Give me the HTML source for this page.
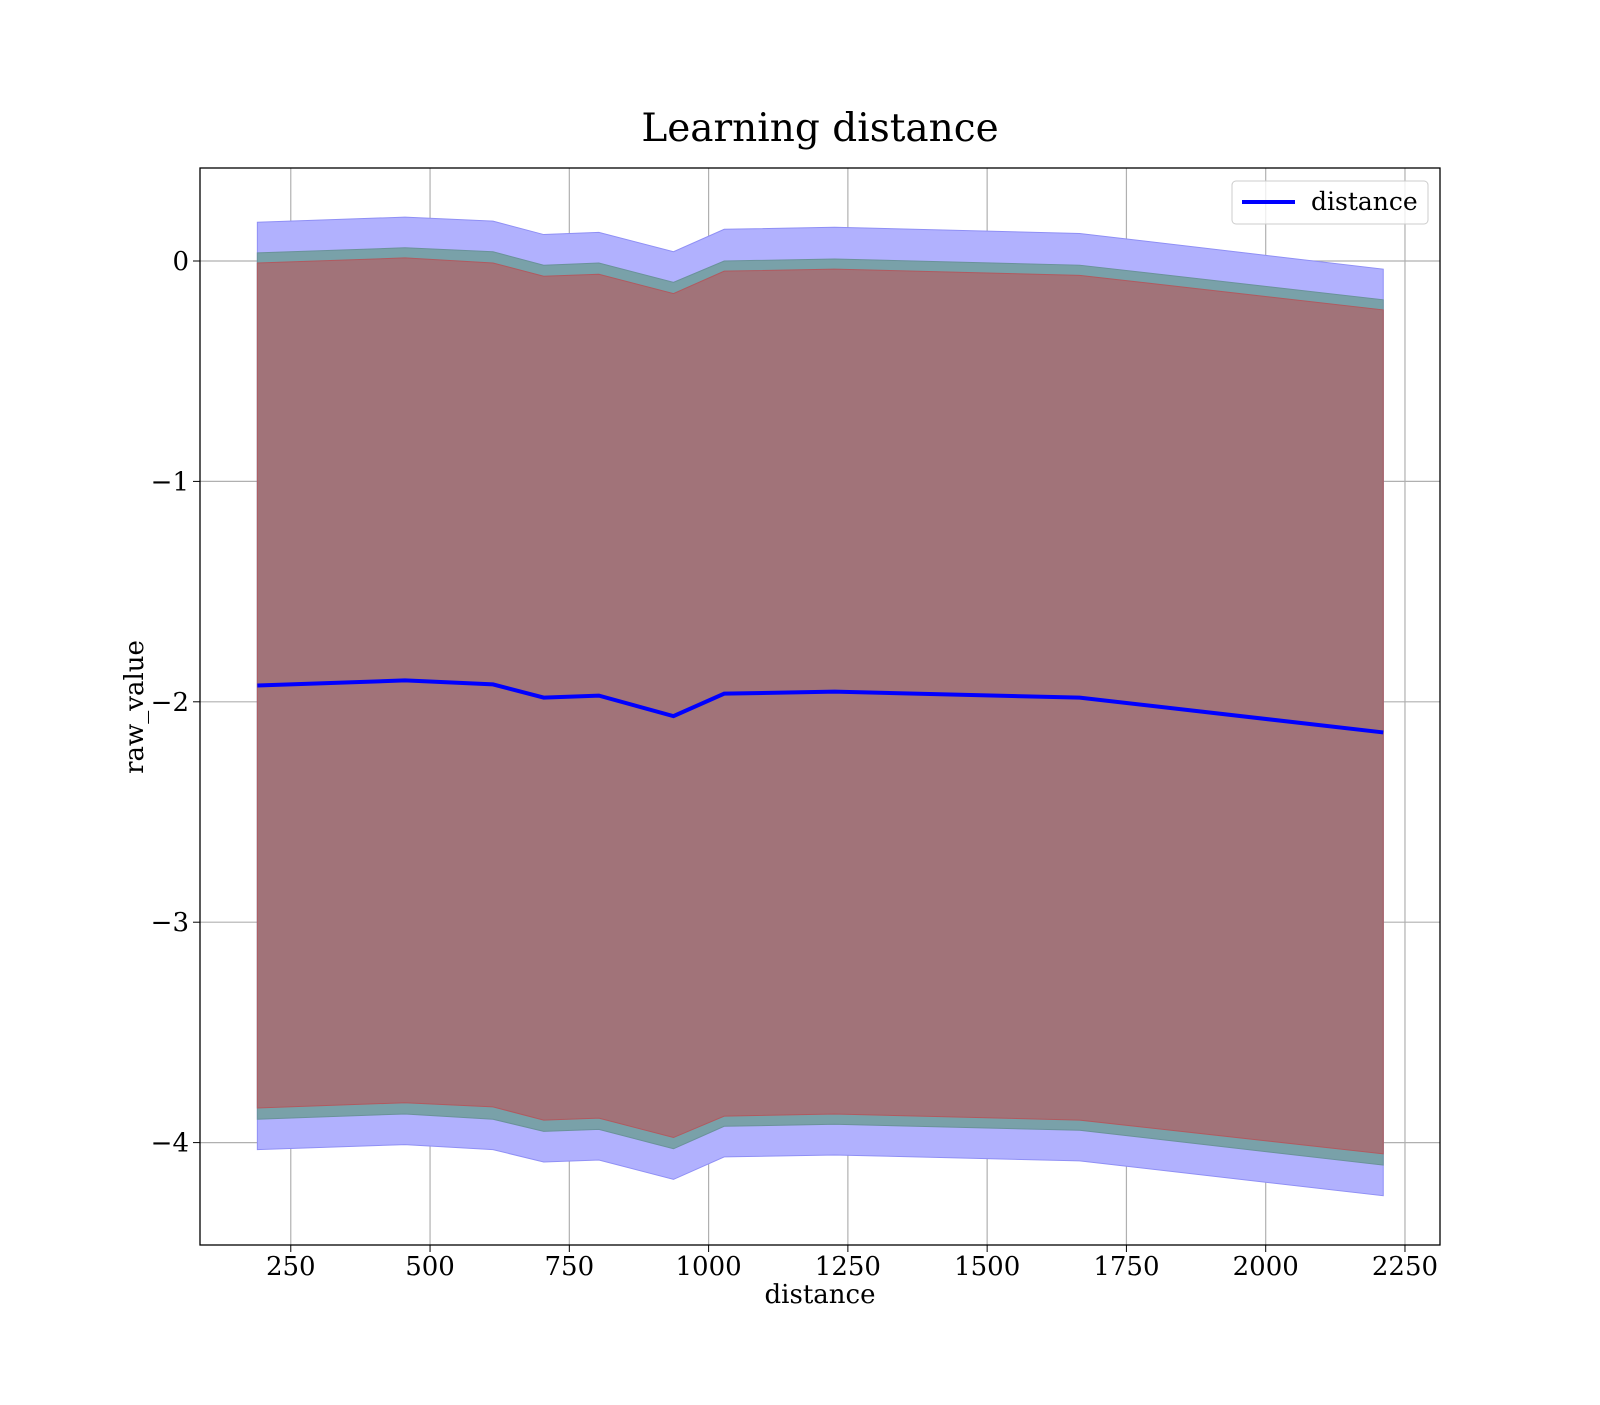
<!DOCTYPE html>
<html><head><meta charset="utf-8"><style>
body{margin:0;background:#fff}
svg text{font-family:"DejaVu Serif","Liberation Serif",serif;fill:#000}
</style></head><body>
<svg width="1600" height="1400" xmlns="http://www.w3.org/2000/svg">
<rect width="1600" height="1400" fill="#fff"/>
<text x="820" y="141" font-size="39" text-anchor="middle">Learning distance</text>
<g id="grid"></g>
<g id="bands"></g>
<g id="line"></g>
<rect x="200" y="168" width="1240" height="1077" fill="none" stroke="#000" stroke-width="1.3"/>
<g id="xt"></g><g id="yt"></g>
<text x="820" y="1303" font-size="26" text-anchor="middle">distance</text>
<text x="143" y="707" font-size="26" text-anchor="middle" transform="rotate(-90 143 707)">raw_value</text>
<g>
<rect x="1232" y="181" width="196" height="43" rx="4" fill="#fff" stroke="#ccc" fill-opacity="0.8"/>
<line x1="1242" y1="202" x2="1295" y2="202" stroke="#0000ff" stroke-width="4"/>
<text x="1311" y="210" font-size="25">distance</text>
</g>
</svg>
<script>
const xs=[190,455,613,704,803,937,1028,1226,1666,2211];
const mean=[-1.926,-1.903,-1.921,-1.981,-1.972,-2.065,-1.963,-1.954,-1.981,-2.139];
const blueUp=[0.176,0.199,0.181,0.120,0.130,0.042,0.144,0.153,0.125,-0.037];
const blueLo=[-4.032,-4.009,-4.032,-4.088,-4.079,-4.167,-4.065,-4.056,-4.083,-4.241];
const greenUp=[0.037,0.060,0.042,-0.019,-0.009,-0.097,0.000,0.009,-0.019,-0.176];
const greenLo=[-3.894,-3.870,-3.894,-3.949,-3.940,-4.028,-3.926,-3.917,-3.944,-4.102];
const redUp=[-0.009,0.014,-0.009,-0.069,-0.060,-0.148,-0.046,-0.037,-0.065,-0.222];
const redLo=[-3.843,-3.819,-3.838,-3.898,-3.889,-3.977,-3.880,-3.870,-3.898,-4.051];
const xTicks=[250,500,750,1000,1250,1500,1750,2000,2250];
const yTicks=[0,-1,-2,-3,-4];
const X=v=>151.5+v*0.5571, Y=v=>261-v*220.4;
const NS="http://www.w3.org/2000/svg";
function mk(t,a,p){const e=document.createElementNS(NS,t);for(const k in a)e.setAttribute(k,a[k]);p.appendChild(e);return e;}
const grid=document.getElementById('grid'),xt=document.getElementById('xt'),yt=document.getElementById('yt');
xTicks.forEach(v=>{
 const g=mk('line',{x1:X(v),x2:X(v),y1:168,y2:1245,stroke:'#b0b0b0','stroke-width':1.2},grid);
 
 
 const tk=mk('line',{x1:X(v),x2:X(v),y1:1245,y2:1252,stroke:'#000'},xt);
 
 
 const t=mk('text',{x:X(v),y:1275,'font-size':26,'text-anchor':'middle'},xt);t.textContent=v;
 
 
});
yTicks.forEach(v=>{
 const g=mk('line',{x1:200,x2:1440,y1:Y(v),y2:Y(v),stroke:'#b0b0b0','stroke-width':1.2},grid);
 
 
 const tk=mk('line',{x1:193,x2:200,y1:Y(v),y2:Y(v),stroke:'#000'},yt);
 
 
 const t=mk('text',{x:189,y:Y(v)+9,'font-size':26,'text-anchor':'end'},yt);t.textContent=v===0?'0':'\u2212'+Math.abs(v);
 
 
});
const bands=document.getElementById('bands');
function band(up,lo,fill,stroke,name){
 let d='M'+xs.map((x,i)=>X(x)+','+Y(up[i])).join('L');
 d+='L'+xs.map((x,i)=>[X(x),Y(lo[i])]).reverse().map(p=>p.join(',')).join('L')+'Z';
 const p=mk('path',{d:d,fill:fill,stroke:stroke,'stroke-width':1},bands);
 
 
}
band(blueUp,blueLo,'#b1b1fe','#8f8ff5','band-blue');
band(greenUp,greenLo,'#79a1a9','#6a929a','band-green');
band(redUp,redLo,'#a17379','#b05a60','band-red');
const ln=mk('polyline',{points:xs.map((x,i)=>X(x)+','+Y(mean[i])).join(' '),fill:'none',stroke:'#0000ff','stroke-width':4},document.getElementById('line'));


</script>
</body></html>
